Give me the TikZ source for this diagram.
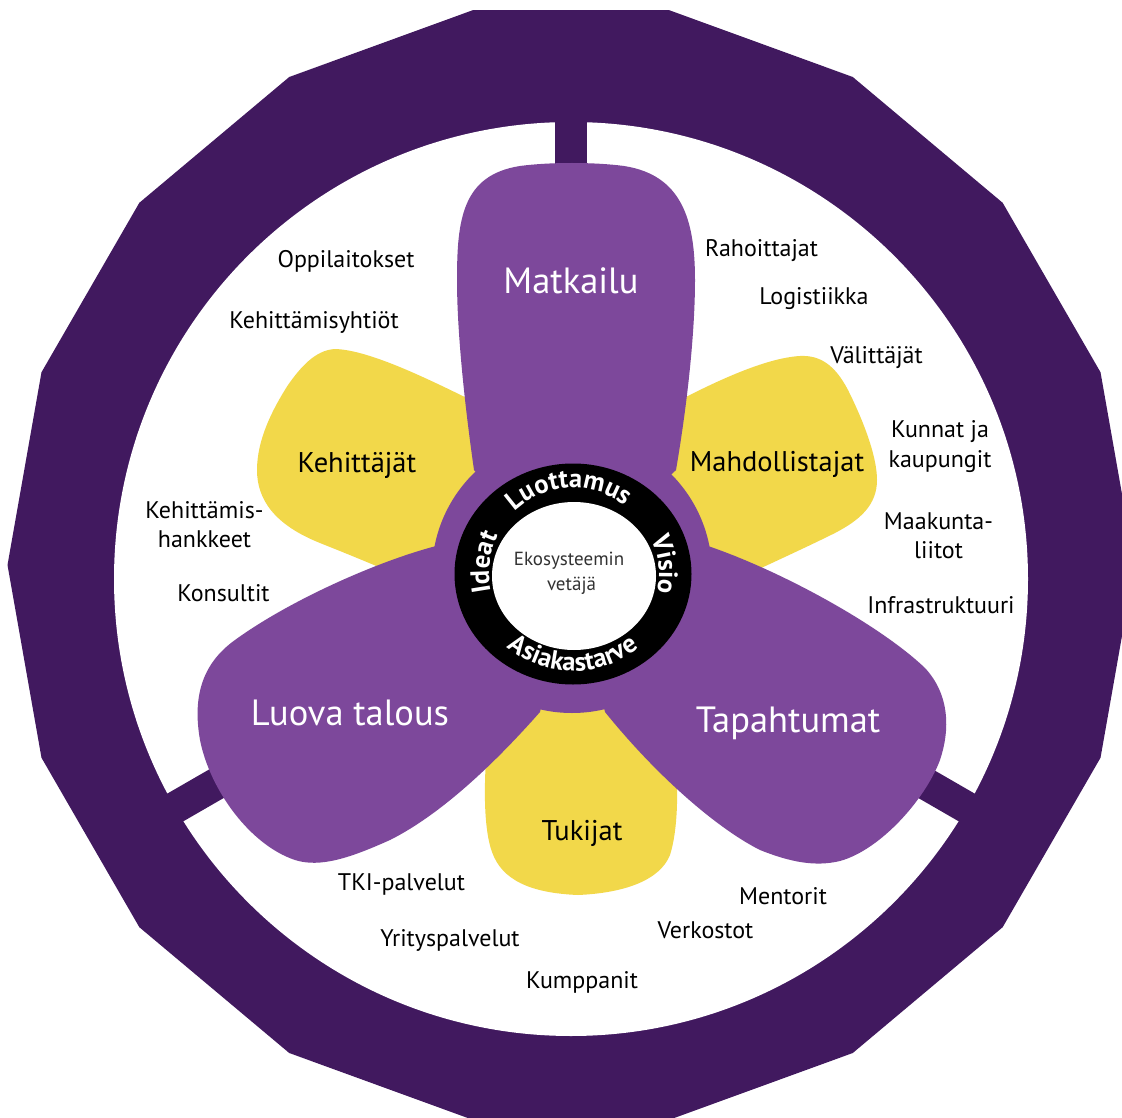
\documentclass[tikz,border=0pt]{standalone}
\usepackage{fontspec}
\setmainfont{PT Sans}
\usetikzlibrary{decorations.text}
\definecolor{ringc}{RGB}{65,25,95}
\definecolor{petalp}{RGB}{125,72,155}
\definecolor{petaly}{RGB}{242,216,74}
\definecolor{hubgray}{RGB}{50,50,50}
\newcommand\ringfont{\fontsize{26.5}{26.5}\selectfont\bfseries}
\begin{document}
\begin{tikzpicture}[x=1pt,y=1pt,
  lab/.style={font=\fontsize{24}{29}\selectfont, anchor=base, inner sep=0pt, text=black},
  mid/.style={font=\fontsize{28.5}{34}\selectfont, anchor=base, inner sep=0pt, text=black},
  big/.style={font=\fontsize{36.5}{44}\selectfont, anchor=base, inner sep=0pt, text=white},
  hubt/.style={font=\fontsize{19}{23}\selectfont, anchor=base, inner sep=0pt, text=hubgray},
  ringtext/.style={decorate, decoration={text along path, text align=center, text color=white, text={|\ringfont|#1}}}]
\useasboundingbox (0,0) rectangle (1122,-1118);
\begin{scope}
\clip (0,0) rectangle (1122,-1118);
% outer 18-gon frame
\fill[ringc] plot[samples at={80,100,...,440}] ({571+563.5*cos(\x)},{-565+563.5*sin(\x)}) -- cycle;
\fill[white] (571,-579) circle[radius=457];
% spokes
\foreach \a in {90,210,330} \draw[ringc, line width=32pt] (571,-579) -- ++(\a:500);
% yellow petals
\fill[petaly] (572,-573) -- (475,-402) .. controls (430,-380) and (370,-350) .. (335,-349)
  .. controls (315,-350) and (300,-368) .. (288,-385) .. controls (272,-410) and (257,-440) .. (257,-470)
  .. controls (257,-500) and (275,-525) .. (320,-543) .. controls (345,-553) and (380,-567) .. (420,-585) -- cycle;
\fill[petaly] (572,-573) -- (680,-400) .. controls (715,-382) and (765,-358) .. (800,-356)
  .. controls (820,-355) and (835,-365) .. (848,-390) .. controls (862,-418) and (877,-455) .. (877,-480)
  .. controls (877,-505) and (860,-520) .. (835,-533) .. controls (805,-548) and (765,-566) .. (725,-585) -- cycle;
\fill[petaly] (536,-700) -- (486,-760) .. controls (484,-790) and (484,-830) .. (492,-852)
  .. controls (502,-880) and (530,-893) .. (578,-895) .. controls (625,-893) and (660,-880) .. (670,-855)
  .. controls (678,-830) and (678,-790) .. (676,-770) -- (610,-700) -- cycle;
% purple petals and hub
\fill[petalp] (572,-573) circle[radius=140];
\fill[petalp] (474,-470) .. controls (464,-400) and (457,-330) .. (457,-280)
  .. controls (457,-220) and (462,-175) .. (520,-166) .. controls (550,-162) and (594,-162) .. (624,-166)
  .. controls (682,-175) and (695,-220) .. (695,-280) .. controls (695,-330) and (688,-400) .. (676,-470)
  -- (572,-573) -- cycle;
\fill[petalp] (440,-545) .. controls (380,-560) and (290,-600) .. (235,-640)
  .. controls (200,-665) and (193,-700) .. (200,-740) .. controls (210,-790) and (250,-845) .. (295,-860)
  .. controls (320,-868) and (350,-858) .. (390,-840) .. controls (430,-820) and (480,-780) .. (540,-712)
  -- (572,-573) -- cycle;
\fill[petalp] (705,-545) .. controls (780,-570) and (880,-625) .. (925,-668)
  .. controls (950,-695) and (950,-730) .. (940,-760) .. controls (925,-800) and (880,-850) .. (840,-861)
  .. controls (815,-867) and (790,-862) .. (760,-850) .. controls (720,-830) and (660,-780) .. (605,-712)
  -- (572,-573) -- cycle;
% centre ring
\fill[black] (573,-574) ellipse[x radius=118.5, y radius=110.5];
\fill[white] (574,-576) ellipse[x radius=82, y radius=74];
\end{scope}
% ring words
\path[ringtext=Luottamus] (573,-574) ++({86*cos(175)},{86*sin(175)}) arc[start angle=175, end angle=11, x radius=86, y radius=86];
\path[ringtext=Visio] (573,-574) ++({86*cos(70)},{86*sin(70)}) arc[start angle=70, end angle=-58, x radius=86, y radius=86];
\path[ringtext=Ideat] (573,-574) ++({84*cos(236)},{86*sin(236)}) arc[start angle=236, end angle=109, x radius=84, y radius=86];
\path[ringtext=Asiakastarve] (573,-574) ++({101*cos(185)},{97*sin(185)}) arc[start angle=185, end angle=355, x radius=101, y radius=97];
% centre text
\node[hubt] (eko1) at (569,-565) {Ekosysteemin};
\node[hubt] (eko2) at (571.5,-590) {vetäjä};
% petal titles
\node[big] (matkailu) at (571,-294) {Matkailu};
\node[big] (luova) at (350,-725) {Luova talous};
\node[big] (tapahtumat) at (788,-732) {Tapahtumat};
\node[mid] (kehittajat) at (357,-472) {Kehittäjät};
\node[mid] (mahdollistajat) at (777,-471) {Mahdollistajat};
\node[mid] (tukijat) at (582,-840) {Tukijat};
% surrounding actors
\node[lab] (oppilaitokset) at (346,-267) {Oppilaitokset};
\node[lab] (kehyhtiot) at (314,-328) {Kehittämisyhtiöt};
\node[lab] (kehhank1) at (204.5,-518) {Kehittämis-};
\node[lab] (kehhank2) at (204.5,-547) {hankkeet};
\node[lab] (konsultit) at (223.5,-601) {Konsultit};
\node[lab] (rahoittajat) at (761.5,-257) {Rahoittajat};
\node[lab] (logistiikka) at (814,-305) {Logistiikka};
\node[lab] (valittajat) at (876.5,-363) {Välittäjät};
\node[lab] (kunnat1) at (940,-437) {Kunnat ja};
\node[lab] (kunnat2) at (940,-467) {kaupungit};
\node[lab] (maakunta1) at (938.5,-529) {Maakunta-};
\node[lab] (maakunta2) at (938.5,-558) {liitot};
\node[lab] (infra) at (941,-613) {Infrastruktuuri};
\node[lab] (tki) at (401.5,-890) {TKI-palvelut};
\node[lab] (yritys) at (450,-946) {Yrityspalvelut};
\node[lab] (kumppanit) at (582,-988) {Kumppanit};
\node[lab] (verkostot) at (705.5,-938) {Verkostot};
\node[lab] (mentorit) at (783,-904) {Mentorit};
\end{tikzpicture}
\end{document}
